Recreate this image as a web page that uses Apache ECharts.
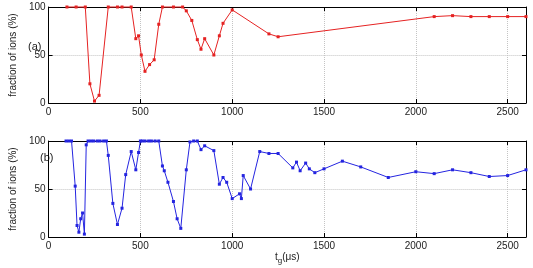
<!DOCTYPE html>
<html><head><meta charset="utf-8">
<script src="https://cdn.jsdelivr.net/npm/echarts@6/dist/echarts.min.js"></script>
<style>html,body{margin:0;padding:0;background:#fff}#c{width:533px;height:268px}</style>
</head><body><div id="c"></div>
<script>
const aX = [100,150,200,225,250,275,325,375,400,450,475,490,505,525,550,575,600,620,680,730,750,780,810,830,850,900,930,950,1000,1200,1250,2100,2200,2300,2400,2500,2600];
const aY = [100,100,100,20,2,8,100,100,100,100,67,70,50,33,40,45,82,100,100,100,96,86,66,56,67,50,70,83,97,72,69,90,91,90,90,90,90];
const bX = [95,110,125,145,155,165,175,185,195,205,215,230,245,265,280,300,315,325,350,375,400,420,450,475,490,500,510,525,545,560,580,600,620,630,650,680,700,720,750,770,790,810,830,850,900,930,950,970,1000,1040,1050,1060,1100,1150,1200,1250,1330,1350,1370,1400,1420,1450,1500,1600,1700,1850,2000,2100,2200,2300,2400,2500,2600];
const bY = [100,100,100,53,12,5,19,25,3,96,100,100,100,100,100,100,100,85,35,13,30,65,89,70,88,100,100,100,100,100,100,100,74,69,57,37,19,9,70,99,100,100,91,95,90,55,62,57,40,45,40,64,50,89,87,87,72,78,69,77,71,67,71,79,73,62,68,66,70,67,63,64,70];
const xTicks = [0,500,1000,1500,2000,2500];
const yTicks = [0,50,100];
const yName = 'fraction of ions (%)';
const xName = 't{sub|g}(μs)';
const panelLabels = ['(a)','(b)'];

const font = 'Liberation Sans, Arial, sans-serif';
const axisLine = {show:true, onZero:false, lineStyle:{color:'#000', width:1}};
function xAx(g, pos, main){
  return {type:'value', gridIndex:g, position:pos, min:0, max:2600, interval:500,
    axisLine, axisTick:{show:true, inside:true, length:4, lineStyle:{color:'#000'}},
    axisLabel:{show:main, color:'#222', fontSize:10, fontFamily:font, margin:4,
      formatter:v=> xTicks.includes(v) ? String(v) : ''},
    splitLine:{show:main, lineStyle:{type:'dotted', color:'#c4c4c4'}},
    name: (main && g===1) ? xName : '', nameLocation:'middle', nameGap:11,
    nameTextStyle:{color:'#222', fontSize:10, fontFamily:font, rich:{sub:{fontSize:8, padding:[8,0,0,0], color:'#222', fontFamily:font}}}
  };
}
function yAx(g, pos, main){
  return {type:'value', gridIndex:g, position:pos, min:0, max:100, interval:50,
    axisLine, axisTick:{show:true, inside:true, length:4, lineStyle:{color:'#000'}},
    axisLabel:{show:main, color:'#222', fontSize:10, fontFamily:font, margin:3,
      formatter:v=> yTicks.includes(v) ? String(v) : ''},
    splitLine:{show:main, lineStyle:{type:'dotted', color:'#c4c4c4'}},
    name: main ? yName : '', nameLocation:'middle', nameGap:26,
    nameTextStyle:{color:'#222', fontSize:10, fontFamily:font}
  };
}
const chart = echarts.init(document.getElementById('c'));
chart.setOption({
  animation:false,
  grid:[{left:32, top:7, width:494, height:96},{left:32, top:141, width:494, height:96}],
  xAxis:[xAx(0,'bottom',true), xAx(1,'bottom',true), xAx(0,'top',false), xAx(1,'top',false)],
  yAxis:[yAx(0,'left',true), yAx(1,'left',true), yAx(0,'right',false), yAx(1,'right',false)],
  series:[
    {type:'line', xAxisIndex:0, yAxisIndex:0, data:aX.map((x,i)=>[x,aY[i]]),
     symbol:'rect', symbolSize:3, clip:false, lineStyle:{color:'#e52222', width:1}, itemStyle:{color:'#e52222'}},
    {type:'line', xAxisIndex:1, yAxisIndex:1, data:bX.map((x,i)=>[x,bY[i]]),
     symbol:'rect', symbolSize:3, clip:false, lineStyle:{color:'#2424e0', width:1}, itemStyle:{color:'#2424e0'}}
  ],
  graphic:[
    {type:'text', left:28, top:41, style:{text:panelLabels[0], fontSize:11, fontFamily:font, fill:'#222'}},
    {type:'text', left:40, top:152, style:{text:panelLabels[1], fontSize:11, fontFamily:font, fill:'#222'}}
  ]
});
</script></body></html>
